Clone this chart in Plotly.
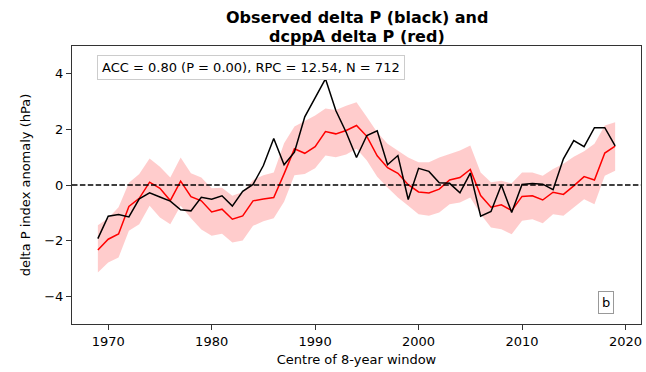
import plotly.graph_objects as go

years = list(range(1969, 2020))

obs_delta_p = [-1.93, -1.12, -1.06, -1.15, -0.50, -0.28, -0.43, -0.58, -0.89, -0.93,
               -0.44, -0.51, -0.39, -0.76, -0.23, 0.02, 0.70, 1.67, 0.73, 1.18,
               2.45, 3.13, 3.82, 2.68, 1.90, 0.99, 1.78, 1.95, 0.73, 1.06,
               -0.52, 0.60, 0.49, 0.08, 0.06, -0.28, 0.43, -1.12, -0.95, 0.00,
               -0.99, 0.02, 0.05, 0.03, -0.17, 0.94, 1.60, 1.38, 2.06, 2.06, 1.41]

model_delta_p = [-2.34, -1.95, -1.76, -0.77, -0.48, 0.10, -0.12, -0.56, 0.14, -0.42,
                 -0.57, -0.97, -0.87, -1.23, -1.11, -0.57, -0.50, -0.45, 0.40, 1.30,
                 1.14, 1.38, 1.92, 1.84, 1.96, 2.14, 1.75, 1.05, 0.62, 0.42,
                 0.01, -0.25, -0.29, -0.15, 0.18, 0.27, 0.56, -0.38, -0.80, -0.71,
                 -0.92, -0.41, -0.39, -0.54, -0.26, -0.34, -0.03, 0.30, 0.18, 1.15, 1.40]

model_upper = [-1.45, -1.20, -0.80, 0.08, 0.40, 0.95, 0.66, 0.27, 0.99, 0.42,
               0.27, -0.12, -0.10, -0.39, -0.25, 0.18, 0.35, 0.45, 1.50, 2.10,
               2.30, 2.50, 2.75, 2.70, 2.85, 2.98, 2.45, 1.90, 1.48, 1.24,
               0.99, 0.82, 0.82, 0.99, 1.12, 1.24, 1.42, 0.45, 0.10, 0.15,
               0.06, 0.45, 0.45, 0.33, 0.58, 0.76, 1.02, 1.21, 1.48, 2.14, 2.26]

model_lower = [-3.15, -2.79, -2.61, -1.65, -1.41, -0.75, -1.17, -1.41, -0.75, -1.20,
               -1.60, -1.83, -1.75, -2.07, -2.00, -1.47, -1.30, -1.20, -0.60, 0.35,
               0.40, 0.60, 1.06, 1.00, 1.10, 1.30, 0.88, 0.30, -0.09, -0.45,
               -0.75, -1.05, -1.11, -0.99, -0.69, -0.63, -0.45, -1.05, -1.53, -1.59,
               -1.77, -1.29, -1.23, -1.38, -1.05, -1.11, -0.81, -0.51, -0.69, 0.33, 0.51]

x_ticks = [1970, 1980, 1990, 2000, 2010, 2020]
y_ticks = [-4, -2, 0, 2, 4]

title_lines = ["Observed delta P (black) and", "dcppA delta P (red)"]

FONT = "DejaVu Sans"

fig = go.Figure()
fig.add_trace(go.Scatter(x=years, y=model_upper, mode="lines",
                         line=dict(width=0, color="rgba(255,0,0,0)"),
                         showlegend=False, hoverinfo="skip"))
fig.add_trace(go.Scatter(x=years, y=model_lower, mode="lines", fill="tonexty",
                         fillcolor="rgba(255,0,0,0.2)",
                         line=dict(width=0, color="rgba(255,0,0,0)"),
                         showlegend=False, hoverinfo="skip"))
fig.add_trace(go.Scatter(x=years, y=model_delta_p, mode="lines",
                         line=dict(color="red", width=1.5), showlegend=False))
fig.add_trace(go.Scatter(x=years, y=obs_delta_p, mode="lines",
                         line=dict(color="black", width=1.5), showlegend=False))

fig.add_shape(type="line", xref="paper", yref="y", x0=0, x1=1, y0=0, y1=0,
              line=dict(color="black", width=1.5, dash="5.5px,2.4px"))

# title lines
cx = (72 + 641.5) / 2 / 646
for txt, ypix in zip(title_lines, [18, 36]):
    fig.add_annotation(xref="paper", yref="paper",
                       x=(cx * 646 - 72) / 569.5, y=(324 - ypix) / 278,
                       xanchor="center", yanchor="middle", showarrow=False,
                       text="<b>" + txt + "</b>",
                       font=dict(family=FONT, size=16, color="black"))

fig.add_annotation(xref="paper", yref="paper", x=0.044, y=0.968,
                   xanchor="left", yanchor="top", showarrow=False,
                   text="ACC = 0.80 (P = 0.00), RPC = 12.54, N = 712",
                   font=dict(family=FONT, size=13, color="black"),
                   bgcolor="white", bordercolor="#cccccc", borderwidth=1, borderpad=4)
fig.add_annotation(xref="paper", yref="paper", x=0.939, y=0.079,
                   xanchor="center", yanchor="middle", showarrow=False,
                   text="b", font=dict(family=FONT, size=13, color="black"),
                   bgcolor="white", bordercolor="#999999", borderwidth=1, borderpad=3)

fig.update_layout(
    width=646, height=372,
    margin=dict(l=72, r=5, t=46, b=48, autoexpand=False),
    paper_bgcolor="white", plot_bgcolor="white",
    font=dict(family=FONT, size=13, color="black"),
    xaxis=dict(range=[1966.5, 2021.5], tickvals=x_ticks,
               ticktext=[str(v) for v in x_ticks],
               showgrid=False, zeroline=False, showline=True, mirror=True,
               linecolor="#333333", linewidth=1, ticks="outside", ticklen=5,
               tickcolor="#333333",
               title=dict(text="Centre of 8-year window", standoff=7,
                          font=dict(family=FONT, size=13))),
    yaxis=dict(range=[-5, 5], tickvals=y_ticks,
               showgrid=False, zeroline=False, showline=True, mirror=True,
               linecolor="#333333", linewidth=1, ticks="outside", ticklen=5,
               tickcolor="#333333",
               title=dict(text="delta P index anomaly (hPa)", standoff=10,
                          font=dict(family=FONT, size=13))),
)

fig.write_html("out.html")
